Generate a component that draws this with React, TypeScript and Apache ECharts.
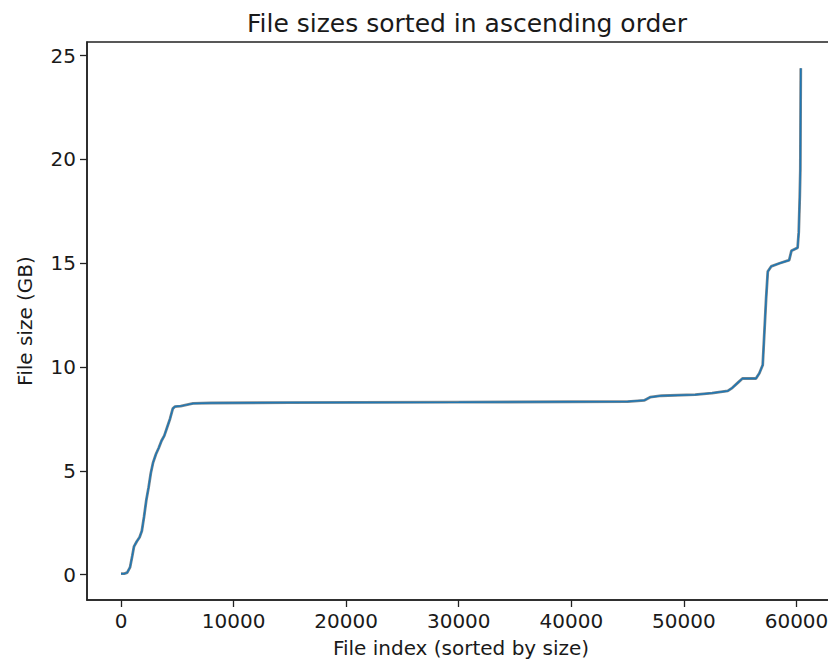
import React, { useEffect, useRef } from "react";
import * as echarts from "echarts";

const fileIndex = [
  0, 300, 550, 800, 1000, 1150, 1400, 1650, 1850, 2050, 2250, 2450, 2650, 2850, 3100, 3350,
  3600, 3850, 4100, 4350, 4600, 4800, 5300, 5800, 6400, 8000, 15000, 21000, 30000, 40000,
  45000, 46500, 47000, 48000, 51000, 52500, 53900, 54300, 54800, 55200, 56400, 56700, 57000,
  57150, 57300, 57450, 57750, 58500, 59350, 59550, 60100, 60200, 60290, 60340, 60380,
];
const fileSizeGB = [
  0.05, 0.05, 0.1, 0.35, 0.9, 1.35, 1.6, 1.8, 2.1, 2.8, 3.6, 4.2, 4.9, 5.4, 5.8, 6.1,
  6.45, 6.7, 7.1, 7.5, 8.0, 8.1, 8.12, 8.18, 8.25, 8.27, 8.29, 8.3, 8.31, 8.33,
  8.34, 8.4, 8.55, 8.62, 8.67, 8.75, 8.85, 9.0, 9.25, 9.45, 9.45, 9.7, 10.1,
  11.7, 13.3, 14.6, 14.85, 15.0, 15.15, 15.6, 15.75, 16.5, 18.2, 19.5, 24.4,
];
const xTicks = [0, 10000, 20000, 30000, 40000, 50000, 60000];
const yTicks = [0, 5, 10, 15, 20, 25];

const FONT = "DejaVu Sans";
const TEXT = "#1a1a1a";

export default function App() {
  const ref = useRef<HTMLDivElement>(null);
  useEffect(() => {
    if (!ref.current) return;
    const chart = echarts.init(ref.current, undefined, { renderer: "svg" });
    const data = fileIndex.map((x, i) => [x, fileSizeGB[i]]);
    chart.setOption({
      animation: false,
      backgroundColor: "#ffffff",
      title: {
        text: "File sizes sorted in ascending order",
        left: 462,
        textAlign: "center",
        top: 6,
        textStyle: { fontFamily: FONT, fontSize: 25, fontWeight: "normal", color: TEXT },
      },
      grid: {
        left: 87,
        top: 42,
        width: 748,
        height: 558,
        show: true,
        borderColor: "#222",
        borderWidth: 1.5,
        containLabel: false,
      },
      xAxis: {
        type: "value",
        min: -3020,
        max: 63420,
        name: "File index (sorted by size)",
        nameLocation: "middle",
        nameGap: 38,
        nameTextStyle: { fontFamily: FONT, fontSize: 20, color: TEXT },
        axisLine: { show: true, onZero: false, lineStyle: { color: "#222", width: 1.5 } },
        axisTick: {
          show: true,
          length: 7,
          customValues: xTicks,
          lineStyle: { color: "#222", width: 1.3 },
        },
        axisLabel: {
          customValues: xTicks,
          formatter: (v: number) => String(Math.round(v)),
          fontFamily: FONT,
          fontSize: 20,
          color: TEXT,
          margin: 11,
        },
        splitLine: { show: false },
      },
      yAxis: {
        type: "value",
        min: -1.22,
        max: 25.66,
        name: "File size (GB)",
        nameLocation: "middle",
        nameRotate: 90,
        nameGap: 52,
        nameTextStyle: { fontFamily: FONT, fontSize: 20, color: TEXT },
        axisLine: { show: true, onZero: false, lineStyle: { color: "#222", width: 1.5 } },
        axisTick: {
          show: true,
          length: 7,
          customValues: yTicks,
          lineStyle: { color: "#222", width: 1.3 },
        },
        axisLabel: {
          customValues: yTicks,
          formatter: (v: number) => String(Math.round(v)),
          fontFamily: FONT,
          fontSize: 20,
          color: TEXT,
          margin: 11,
        },
        splitLine: { show: false },
      },
      series: [
        {
          type: "line",
          data,
          showSymbol: false,
          lineStyle: { color: "#7d878c", width: 2.8 },
          silent: true,
        },
        {
          type: "line",
          data,
          showSymbol: false,
          lineStyle: { color: "#1f77b4", width: 1.5 },
          silent: true,
        },
      ],
    });
    return () => chart.dispose();
  }, []);
  return (
    <div
      style={{
        position: "absolute",
        left: 0,
        top: 0,
        width: 828,
        height: 664,
        overflow: "hidden",
        background: "#fff",
      }}
    >
      <div ref={ref} style={{ width: 844, height: 664 }} />
    </div>
  );
}
